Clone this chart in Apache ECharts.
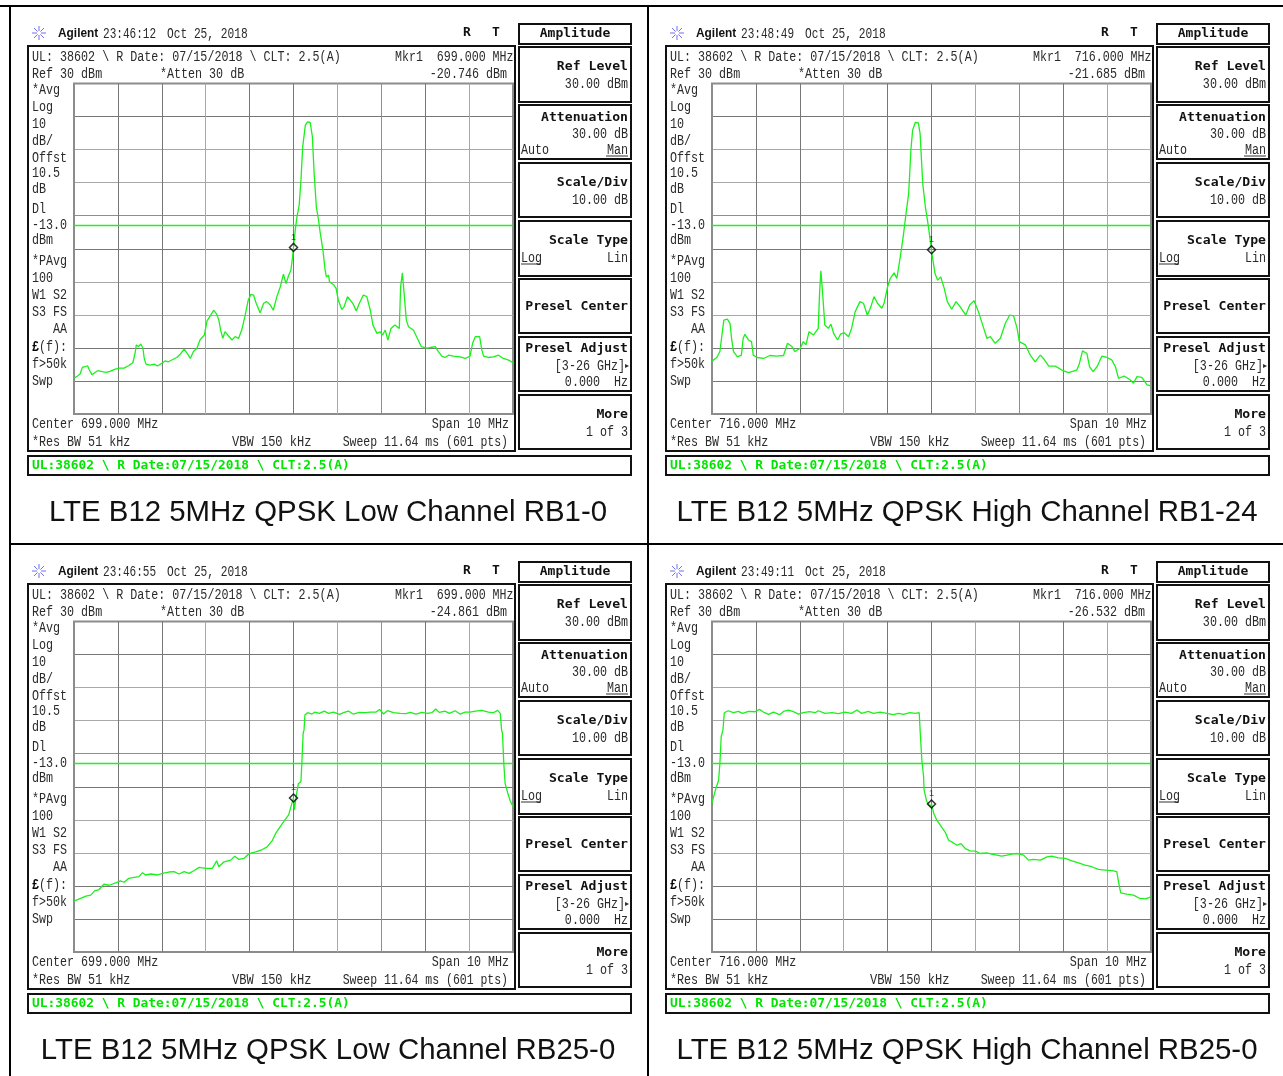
<!DOCTYPE html>
<html><head><meta charset="utf-8">
<style>html,body{margin:0;padding:0;background:#fff}#c{width:1283px;height:1076px}</style>
<script src="https://cdn.jsdelivr.net/npm/echarts@6/dist/echarts.min.js"></script>
</head><body><div id="c"></div>
<script>
// Frequency offset from centre (MHz) and level (dBm)
const lowRb1Freq=[-5,-4.92,-4.86,-4.81,-4.75,-4.69,-4.65,-4.59,-4.53,-4.46,-4.42,-4.36,-4.27,-4.18,-4.06,-3.96,-3.86,-3.76,-3.66,-3.61,-3.58,-3.53,-3.48,-3.43,-3.4,-3.36,-3.27,-3.17,-3.1,-3.01,-2.92,-2.85,-2.75,-2.66,-2.58,-2.49,-2.41,-2.35,-2.28,-2.2,-2.13,-2.03,-1.97,-1.9,-1.82,-1.75,-1.7,-1.66,-1.61,-1.56,-1.48,-1.4,-1.33,-1.25,-1.18,-1.1,-1.03,-0.97,-0.91,-0.85,-0.76,-0.68,-0.61,-0.53,-0.46,-0.38,-0.3,-0.23,-0.17,-0.11,-0.06,-0.02,0,0.04,0.08,0.13,0.17,0.21,0.27,0.32,0.38,0.43,0.47,0.52,0.57,0.61,0.67,0.72,0.75,0.8,0.82,0.86,0.92,0.97,1.02,1.1,1.15,1.23,1.29,1.35,1.43,1.5,1.59,1.67,1.75,1.81,1.9,1.97,2.03,2.09,2.15,2.22,2.31,2.41,2.44,2.48,2.52,2.57,2.62,2.73,2.81,2.91,3.04,3.15,3.23,3.3,3.38,3.45,3.53,3.64,3.8,3.91,4.02,4.08,4.14,4.24,4.29,4.33,4.44,4.55,4.67,4.78,4.9,5];
const lowRb1Level=[-59.2,-58.5,-57.9,-55.9,-55.7,-55.4,-56.7,-58.1,-57.5,-56.9,-56.3,-57.2,-57.4,-57.1,-56.4,-56.1,-56.1,-55.4,-54.5,-51.7,-49.1,-49.6,-48.8,-50.1,-53.2,-54.9,-55.2,-54.9,-55.5,-54.7,-53.9,-54.2,-53.5,-52.9,-51.9,-50.4,-51.9,-53.2,-51.1,-50.1,-47.6,-46.1,-41.8,-40.4,-38.6,-39.8,-41.6,-44.6,-47.1,-45.1,-46.4,-47.6,-46.6,-47.1,-44.6,-40.1,-35.5,-33.8,-34,-36.5,-39.4,-36.5,-36,-37,-38.6,-34.5,-31.5,-27.7,-30.5,-28,-26.5,-22.4,-19.6,-14.3,-10.3,-6.8,0.8,10.9,17.4,18.4,18.2,13.9,2.8,-7.3,-11.3,-15.3,-20.4,-26.5,-28.5,-28,-30,-30.5,-31,-32,-35.5,-38.4,-37.6,-34.5,-35.5,-36.5,-38.8,-36.5,-34,-34.5,-38.6,-43.1,-45.6,-45.1,-46.1,-44.6,-47.6,-44.1,-43.1,-44.1,-31.5,-27.3,-33.5,-41.6,-43.6,-44.6,-46.8,-49.6,-50.1,-49.8,-49.6,-51.1,-52.5,-52.9,-52.2,-52.5,-52.7,-53.2,-52.5,-48.6,-46.6,-46.6,-50.6,-52.5,-52.9,-52.7,-52.2,-53.2,-53.7,-54.5];
const highRb1Freq=[-5,-4.89,-4.82,-4.76,-4.73,-4.65,-4.59,-4.55,-4.51,-4.42,-4.33,-4.29,-4.25,-4.17,-4.1,-4.06,-3.97,-3.83,-3.68,-3.53,-3.37,-3.28,-3.18,-3.11,-2.99,-2.92,-2.86,-2.79,-2.69,-2.58,-2.55,-2.52,-2.48,-2.43,-2.35,-2.29,-2.23,-2.14,-2.07,-1.99,-1.89,-1.82,-1.74,-1.63,-1.55,-1.46,-1.38,-1.31,-1.23,-1.13,-1.08,-1,-0.94,-0.85,-0.79,-0.71,-0.64,-0.58,-0.52,-0.47,-0.43,-0.37,-0.3,-0.26,-0.2,-0.14,-0.07,-0.03,0,0.02,0.08,0.14,0.21,0.29,0.36,0.46,0.56,0.65,0.78,0.87,0.97,1.07,1.19,1.26,1.34,1.45,1.57,1.68,1.78,1.87,1.95,2,2.14,2.25,2.36,2.48,2.55,2.67,2.82,2.97,3.12,3.31,3.37,3.44,3.54,3.6,3.68,3.77,3.88,4,4.11,4.19,4.26,4.39,4.53,4.6,4.68,4.79,4.91,5];
const highRb1Level=[-54,-52.9,-51.1,-44.6,-41.6,-41.3,-42.6,-47.6,-51.1,-52.7,-52.2,-47.1,-45.9,-47.6,-48.1,-52.2,-52.9,-53.2,-52.3,-52.5,-52.3,-48.6,-49.6,-51.1,-50.1,-48.1,-49.1,-45.1,-46.1,-44.1,-33.5,-26.7,-33.5,-43.1,-44.1,-42.8,-45.6,-47.6,-45.8,-45.4,-46.6,-44.1,-39.1,-36,-36.5,-40.1,-37.5,-34.5,-36.5,-38,-36.5,-31.5,-29,-27.3,-29,-22.4,-15.9,-9.3,-3.3,9.8,15.9,18.2,18.1,14.9,-0.2,-7.3,-13.3,-17.4,-20.3,-22.4,-27.5,-29.5,-28.5,-32,-36,-38.3,-36,-37.5,-40.1,-37,-35.7,-39.1,-44.1,-47.1,-46.6,-48.6,-47.1,-42.6,-40.1,-40.3,-44.1,-48.1,-49.1,-52.2,-54.2,-52.2,-53.2,-55.5,-55.5,-56.7,-57.5,-56.7,-54.7,-50.9,-51.7,-55.7,-57.2,-55.7,-52.5,-52.9,-53.7,-55.7,-59.2,-58.5,-59.7,-60.7,-58.7,-58.9,-61.2,-61.5];
const lowRb25Freq=[-5,-4.85,-4.73,-4.62,-4.53,-4.43,-4.32,-4.2,-4.05,-3.94,-3.86,-3.75,-3.63,-3.52,-3.44,-3.37,-3.25,-3.1,-2.99,-2.84,-2.72,-2.61,-2.49,-2.38,-2.27,-2.15,-2,-1.85,-1.75,-1.7,-1.58,-1.43,-1.34,-1.24,-1.13,-1.01,-0.86,-0.71,-0.6,-0.48,-0.41,-0.31,-0.2,-0.11,-0.04,0,0.02,0.06,0.11,0.17,0.19,0.22,0.24,0.26,0.32,0.42,0.49,0.59,0.7,0.8,0.91,1.05,1.14,1.25,1.36,1.5,1.63,1.76,1.88,1.96,2.05,2.14,2.28,2.43,2.56,2.66,2.79,2.92,3.05,3.15,3.24,3.32,3.45,3.55,3.68,3.79,3.91,4.02,4.14,4.29,4.44,4.55,4.65,4.71,4.74,4.76,4.79,4.82,4.88,4.94,5];
const lowRb25Level=[-54.6,-53.8,-53.1,-52.8,-51.5,-51.1,-49.5,-49.8,-49.1,-48.5,-48.9,-47.7,-47.4,-47.2,-46,-46.7,-46.4,-46.7,-46.2,-45.8,-45.7,-46.4,-45.7,-46.2,-45.4,-44.4,-44.7,-44.7,-42.4,-44.2,-42.7,-42.2,-41,-42,-41.7,-40.2,-39.7,-39,-38.2,-36.2,-34.2,-32.2,-30.1,-28.5,-25.2,-23.4,-27,-22.9,-19.1,-18.4,-12.9,-3.8,-2.8,1.7,2.4,2,2.6,2.2,2.9,2.2,2.6,1.9,2.4,2.9,2,2.5,2.4,2.6,2.6,3.4,2,3,2.4,2.2,2.1,2.5,2,2.5,2.2,2.4,3.5,2.5,2.9,2.2,3,2,2.6,2.6,2.9,3.1,2.6,2.4,3.1,2.2,-2.8,-3.8,-12.9,-18.9,-21.9,-24.4,-26];
const highRb25Freq=[-5,-4.95,-4.91,-4.85,-4.82,-4.79,-4.75,-4.72,-4.63,-4.51,-4.4,-4.3,-4.17,-4.02,-3.92,-3.83,-3.71,-3.6,-3.46,-3.37,-3.26,-3.16,-3.03,-2.92,-2.78,-2.65,-2.58,-2.42,-2.27,-2.12,-1.97,-1.82,-1.7,-1.59,-1.44,-1.32,-1.17,-1.02,-0.87,-0.75,-0.64,-0.49,-0.37,-0.28,-0.26,-0.22,-0.18,-0.17,-0.14,-0.11,-0.07,-0.03,0,0.05,0.12,0.24,0.31,0.39,0.5,0.58,0.67,0.77,0.88,1,1.11,1.26,1.37,1.49,1.6,1.72,1.83,1.96,2.1,2.21,2.32,2.48,2.63,2.74,2.89,3.05,3.2,3.35,3.5,3.65,3.8,3.96,4.11,4.22,4.26,4.31,4.45,4.6,4.75,4.87,5];
const highRb25Level=[-24.9,-22.4,-20.4,-18.1,-12.9,-4.8,-2.8,2.4,3,2.4,2.8,2.2,2.8,2.7,3.4,2.6,1.9,2.6,1.8,2.8,3.2,2.8,2,2.4,2.7,2.4,3,2.2,2.4,2.1,2.6,2.2,3.2,2.2,2.8,2.2,2.6,2.2,1.8,2.2,1.9,2.4,2.2,2.4,-2.8,-11.9,-16.9,-20.9,-20.7,-24.4,-23.9,-26,-25.2,-28,-30.1,-32.4,-33.7,-36.2,-37,-37.7,-37.2,-38.7,-39.4,-39.5,-40.2,-40,-40.4,-40.7,-41,-40.7,-40.4,-40.2,-40.7,-42.2,-42,-42.2,-41.2,-41,-41.5,-41.7,-42.4,-43,-43.7,-44.2,-45,-45.2,-45.4,-45.7,-48.8,-52.1,-52.5,-52.8,-53.8,-53.9,-53.3];
const markerLevels=[-19.6,-20.3,-23.4,-25.2];
const displayLine=-13;
const clockTimes=['23:46:12','23:48:49','23:46:55','23:49:11'];
const centerFreqs=['699.000','716.000','699.000','716.000'];
const markerReadouts=['-20.746','-21.685','-24.861','-26.532'];
const captions=['LTE B12 5MHz QPSK Low Channel RB1-0','LTE B12 5MHz QPSK High Channel RB1-24','LTE B12 5MHz QPSK Low Channel RB25-0','LTE B12 5MHz QPSK High Channel RB25-0'];
const traces=[[lowRb1Freq,lowRb1Level],[highRb1Freq,highRb1Level],[lowRb25Freq,lowRb25Level],[highRb25Freq,highRb25Level]];

const offs=[[0,0],[638,0],[0,538],[638,538]];
const MONO='"Liberation Mono"', BOLD='"DejaVu Sans Mono"';
const g=[];
const D='#777777',L='#a8a8a8',M='#8e8e8e',B='#8c8c8c';
const xLineColors=[B,D,D,L,D,D,L,M,D,L,B];
const yLineColors=[B,D,D,L,L,D,M,L,L,D,B];
function txt(x,y,s,o){o=o||{};g.push({type:'text',x:x,y:y+1,scaleX:o.sx||0.835,silent:true,z:10,style:{text:s,fill:o.c||'#2a2a2a',font:(o.w||'normal')+' '+(o.fs||14)+'px '+(o.ff||MONO),textAlign:o.a||'left',textVerticalAlign:'middle'}});}
function box(x,y,w,h,lw){g.push({type:'rect',silent:true,z:9,shape:{x:x,y:y,width:w,height:h},style:{fill:'none',stroke:'#111',lineWidth:lw||2}});}
function ln(x1,y1,x2,y2,c,lw){g.push({type:'line',silent:true,z:9,shape:{x1,y1,x2,y2},style:{stroke:c||'#000',lineWidth:lw||1}});}
ln(0,6,1283,6,'#000',2);ln(10,6,10,1076,'#000',2);ln(648,6,648,1076,'#000',2);ln(10,544,1283,544,'#000',2);
const grids=[],xAxes=[],yAxes=[],series=[];
offs.forEach((p,i)=>{
 const dx=p[0],dy=p[1];
 const T=(x,y,s,o)=>txt(x+dx,y+dy,s,o);
 box(28+dx,46+dy,487,405,2);
 box(28+dx,456+dy,603,19,2);
 [[24,20],[47,55],[105,54],[163,54],[221,55],[279,54],[337,54],[395,54]].forEach(b=>box(519+dx,b[0]+dy,112,b[1],2));
 for(let a=0;a<8;a++){const r=a*Math.PI/4;ln(39+dx+2*Math.cos(r),33+dy+2*Math.sin(r),39+dx+7*Math.cos(r),33+dy+7*Math.sin(r),'#7070ee',1);}
 g.push({type:'text',x:58+dx,y:33+dy,silent:true,z:10,scaleX:0.88,style:{text:'Agilent',fill:'#111',font:'bold 13.5px "Liberation Sans"',textVerticalAlign:'middle'}});
 T(103,33,clockTimes[i],{sx:0.79});
 T(167,33,'Oct 25, 2018',{sx:0.8});
 T(463,32,'R',{w:'bold',ff:BOLD,fs:13,sx:1,c:'#111'});
 T(492,32,'T',{w:'bold',ff:BOLD,fs:13,sx:1,c:'#111'});
 T(32,56,'UL: 38602 \\ R Date: 07/15/2018 \\ CLT: 2.5(A)');
 T(395,56,'Mkr1  '+centerFreqs[i]+' MHz',{sx:0.83});
 T(32,73.5,'Ref 30 dBm');
 T(160,73.5,'*Atten 30 dB');
 T(507,73.5,markerReadouts[i]+' dBm',{a:'right'});
 [['*Avg',89],['Log',106],['10',123],['dB/',140],['Offst',157],['10.5',172],['dB',188],['Dl',208],['-13.0',224],['dBm',239],['*PAvg',260],['100',277],['W1 S2',294],['S3 FS',311],['   AA',328],['f>50k',363],['Swp',380]].forEach(r=>T(32,r[1],r[0]));
 T(32,346,'£',{w:'bold',c:'#000'});T(39,346,'(f):');
 T(32,423,'Center '+centerFreqs[i]+' MHz');
 T(509,423,'Span 10 MHz',{a:'right'});
 T(32,441,'*Res BW 51 kHz');
 T(232,441,'VBW 150 kHz',{sx:0.86});
 T(508,441,'Sweep 11.64 ms (601 pts)',{a:'right',sx:0.82});
 T(32,465,'UL:38602 \\ R Date:07/15/2018 \\ CLT:2.5(A)',{w:'bold',ff:BOLD,fs:13,sx:0.99,c:'#00e600'});
 const K=(y,s)=>T(628,y,s,{w:'bold',ff:BOLD,fs:13,sx:1.01,a:'right',c:'#111'});
 const V=(y,s)=>T(628,y,s,{a:'right'});
 T(575,33,'Amplitude',{w:'bold',ff:BOLD,fs:13,sx:1,a:'center',c:'#111'});
 K(66,'Ref Level');V(83,'30.00 dBm');
 K(117,'Attenuation');V(133,'30.00 dB');T(521,149,'Auto');V(149,'Man');ln(606+dx,156+dy,628+dx,156+dy,'#333',1);
 K(182,'Scale/Div');V(199,'10.00 dB');
 K(240,'Scale Type');T(521,257,'Log');V(257,'Lin');ln(521+dx,264+dy,541+dx,264+dy,'#333',1);
 K(306,'Presel Center');
 K(348,'Presel Adjust');T(625,365,'[3-26 GHz]',{a:'right'});T(625,365,'▸',{fs:8,sx:1});V(381,'0.000  Hz');
 K(414,'More');V(431,'1 of 3');
 g.push({type:'text',x:(i%2?967:328),y:513+dy,silent:true,z:10,style:{text:captions[i],fill:'#111',font:'29.4px "Liberation Sans"',textAlign:'center',textVerticalAlign:'middle'}});
 grids.push({left:74+dx,top:83.5+dy,width:439,height:330.5,show:true,borderColor:'#8c8c8c',borderWidth:2,backgroundColor:'#fff'});
 xAxes.push({gridIndex:i,type:'value',min:-5,max:5,interval:1,axisLabel:{show:false},axisTick:{show:false},axisLine:{show:false},splitLine:{show:true,lineStyle:{color:xLineColors,width:1}}});
 yAxes.push({gridIndex:i,type:'value',min:-70,max:30,interval:10,axisLabel:{show:false},axisTick:{show:false},axisLine:{show:false},splitLine:{show:true,lineStyle:{color:yLineColors,width:1}}});
 const f=traces[i][0],l=traces[i][1];
 series.push({type:'line',xAxisIndex:i,yAxisIndex:i,showSymbol:false,silent:true,data:f.map((v,k)=>[v,l[k]]),lineStyle:{color:'#1cf01c',width:1.3},z:3,
  markLine:{silent:true,symbol:'none',label:{show:false},lineStyle:{color:'#22ee22',width:1.4,type:'solid'},data:[{yAxis:displayLine}]}});
 series.push({type:'scatter',xAxisIndex:i,yAxisIndex:i,symbol:'diamond',symbolSize:8,silent:true,z:5,data:[[0,markerLevels[i]]],itemStyle:{color:'rgba(0,0,0,0)',borderColor:'#000',borderWidth:1.5},label:{show:true,position:'top',distance:1,formatter:'1',fontSize:9,color:'#222',fontFamily:'Liberation Sans'}});
});
const chart=echarts.init(document.getElementById('c'),null,{renderer:'canvas'});
chart.setOption({animation:false,backgroundColor:'#fff',grid:grids,xAxis:xAxes,yAxis:yAxes,series:series,graphic:g});
</script></body></html>
